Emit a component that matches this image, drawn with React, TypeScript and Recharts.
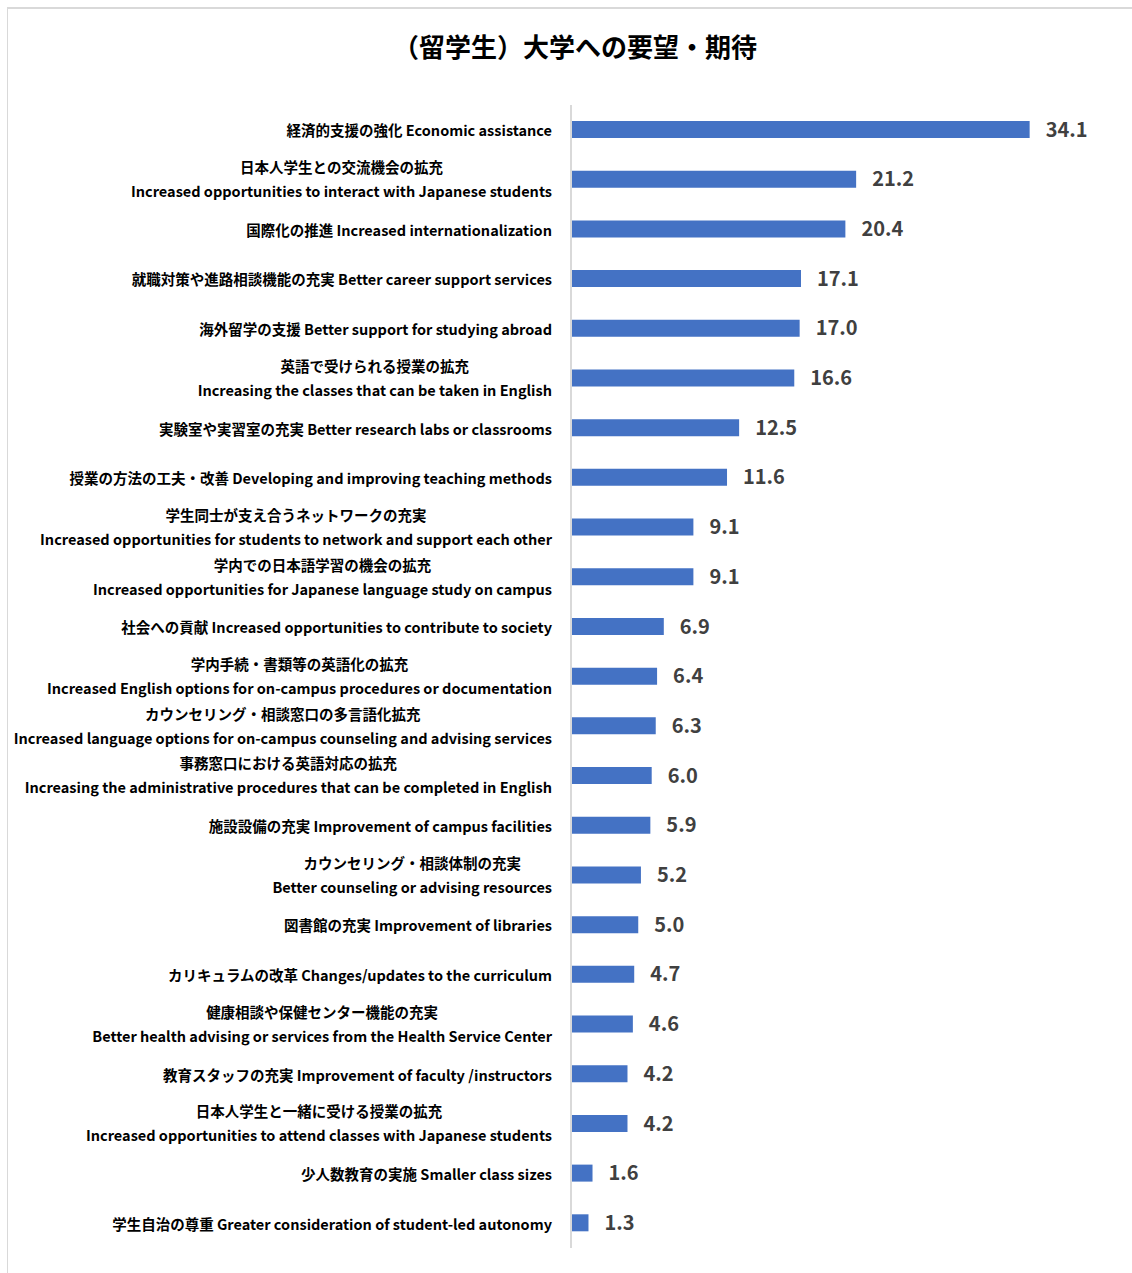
import React from "react";
import { BarChart, Bar, XAxis, YAxis, LabelList } from "recharts";

const title = "（留学生）大学への要望・期待";

const categories: string[] = [
  "経済的支援の強化 Economic assistance",
  "日本人学生との交流機会の拡充\nIncreased opportunities to interact with Japanese students",
  "国際化の推進 Increased internationalization",
  "就職対策や進路相談機能の充実 Better career support services",
  "海外留学の支援 Better support for studying abroad",
  "英語で受けられる授業の拡充\nIncreasing the classes that can be taken in English",
  "実験室や実習室の充実 Better research labs or classrooms",
  "授業の方法の工夫・改善 Developing and improving teaching methods",
  "学生同士が支え合うネットワークの充実\nIncreased opportunities for students to network and support each other",
  "学内での日本語学習の機会の拡充\nIncreased opportunities for Japanese language study on campus",
  "社会への貢献 Increased opportunities to contribute to society",
  "学内手続・書類等の英語化の拡充\nIncreased English options for on-campus procedures or documentation",
  "カウンセリング・相談窓口の多言語化拡充\nIncreased language options for on-campus counseling and advising services",
  "事務窓口における英語対応の拡充\nIncreasing the administrative procedures that can be completed in English",
  "施設設備の充実 Improvement of campus facilities",
  "カウンセリング・相談体制の充実\nBetter counseling or advising resources",
  "図書館の充実 Improvement of libraries",
  "カリキュラムの改革 Changes/updates to the curriculum",
  "健康相談や保健センター機能の充実\nBetter health advising or services from the Health Service Center",
  "教育スタッフの充実 Improvement of faculty /instructors",
  "日本人学生と一緒に受ける授業の拡充\nIncreased opportunities to attend classes with Japanese students",
  "少人数教育の実施 Smaller class sizes",
  "学生自治の尊重 Greater consideration of student-led autonomy",
];

const values: number[] = [
  34.1, 21.2, 20.4, 17.1, 17.0, 16.6, 12.5, 11.6, 9.1, 9.1, 6.9, 6.4, 6.3, 6.0,
  5.9, 5.2, 5.0, 4.7, 4.6, 4.2, 4.2, 1.6, 1.3,
];

const data = categories.map((name, i) => ({ name, value: values[i] }));

const FONT = "'Noto Sans CJK JP', 'Noto Sans', sans-serif";
const LABEL_SIZE = 14.5;
const LABEL_WEIGHT = 700;

let ctx: CanvasRenderingContext2D | null = null;
function measure(text: string): number {
  if (!ctx) {
    const c = document.createElement("canvas");
    ctx = c.getContext("2d");
  }
  if (!ctx) return text.length * 8;
  ctx.font = `${LABEL_WEIGHT} ${LABEL_SIZE}px ${FONT}`;
  return ctx.measureText(text).width;
}

const CategoryTick = (props: any) => {
  const { x, y, payload } = props;
  const lines: string[] = String(payload.value).split("\n");
  const common = {
    fontFamily: FONT,
    fontSize: LABEL_SIZE,
    fontWeight: LABEL_WEIGHT,
    fill: "#000000",
    dominantBaseline: "central" as const,
  };
  if (lines.length === 1) {
    return (
      <text x={x} y={y} textAnchor="end" {...common}>
        {lines[0]}
      </text>
    );
  }
  const w = Math.max(...lines.map(measure));
  const cx = x - w / 2;
  return (
    <g>
      <text x={cx} y={y - 13} textAnchor="middle" {...common}>
        {lines[0]}
      </text>
      <text x={cx} y={y + 11} textAnchor="middle" {...common}>
        {lines[1]}
      </text>
    </g>
  );
};

export default function App() {
  return (
    <div
      style={{
        position: "absolute",
        left: 0,
        top: 0,
        width: 1132,
        height: 1273,
        overflow: "hidden",
        background: "#ffffff",
      }}
    >
      <div
        style={{
          position: "absolute",
          left: 7,
          top: 7,
          width: 1200,
          height: 1400,
          borderTop: "2px solid #d9d9d9",
          borderLeft: "1px solid #d9d9d9",
        }}
      />
      <div
        style={{
          position: "absolute",
          left: 0,
          top: 28,
          width: 1150,
          textAlign: "center",
          fontFamily: FONT,
          fontSize: 26,
          fontWeight: 700,
          lineHeight: "36px",
          color: "#000000",
        }}
      >
        {title}
      </div>
      <div style={{ position: "absolute", left: 0, top: 0 }}>
        <BarChart
          width={1132}
          height={1273}
          data={data}
          layout="vertical"
          margin={{ top: 105, right: 23, bottom: 25, left: 0 }}
          barCategoryGap={0}
        >
          <XAxis type="number" domain={[0, 40]} hide />
          <YAxis
            type="category"
            dataKey="name"
            width={571}
            axisLine={{ stroke: "#d9d9d9", strokeWidth: 2 }}
            tickLine={false}
            tickSize={6}
            tickMargin={13}
            interval={0}
            tick={<CategoryTick />}
          />
          <Bar
            dataKey="value"
            fill="#4472C4"
            barSize={17}
            isAnimationActive={false}
          >
            <LabelList
              dataKey="value"
              position="right"
              offset={16}
              formatter={(v: any) => Number(v).toFixed(1)}
              style={{
                fontFamily: FONT,
                fontSize: 20,
                fontWeight: 700,
                fill: "#404040",
              }}
            />
          </Bar>
        </BarChart>
      </div>
    </div>
  );
}
